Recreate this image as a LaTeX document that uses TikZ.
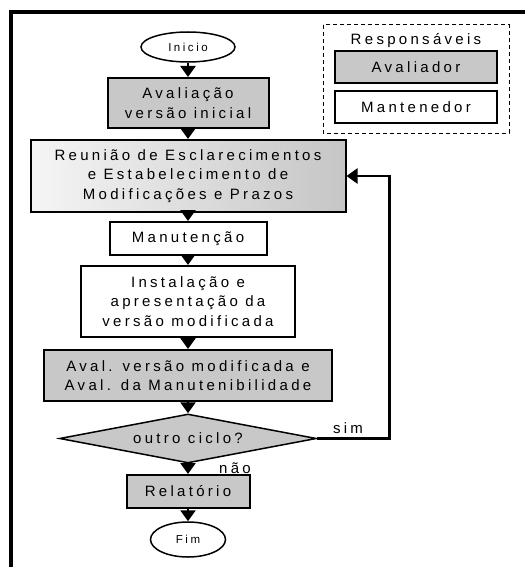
\documentclass[tikz,border=0pt]{standalone}
\usepackage{fontspec}
\setmainfont{Liberation Sans}
\newfontfamily\spacedfont[LetterSpace=22]{Liberation Sans}
\usepackage{tikz}
\usetikzlibrary{shapes.geometric, arrows.meta, calc}
\definecolor{avalGray}{RGB}{200, 200, 200}

\begin{document}
\begin{tikzpicture}[x=1pt, y=-1pt,
  txt/.style={font=\spacedfont\fontsize{15}{19.5}\selectfont, align=center, inner sep=0pt},
  boxMant/.style={txt, draw, line width=2pt, fill=white},
  boxAval/.style={boxMant, fill=avalGray},
  termNode/.style={ellipse, draw, line width=1.5pt, inner sep=0pt,
                   font=\spacedfont\fontsize{11.5}{13}\selectfont},
  arr/.style={line width=2.5pt, -{Triangle[width=15pt, length=11pt]}}]
  \useasboundingbox (0,0) rectangle (525,567);

  % ── Moldura (só topo e lado esquerdo) ──
  \draw[line width=3.5pt] (11,567) -- (11,12) -- (525,12);

  % ── Legenda ──
  \node[txt] (resp) at (416,41) {Responsáveis};
  \node[boxAval, minimum width=162, minimum height=32] (legAval) at (416,67) {Avaliador};
  \node[boxMant, minimum width=162, minimum height=32] (legMant) at (416,107) {Mantenedor};
  \draw[line width=1pt, dash pattern=on 4pt off 3pt] (323,25) rectangle (509,133);

  % ── Fluxo principal (x central = 188) ──
  \node[termNode, minimum width=94, minimum height=30] (inicio) at (188,47) {Inicio};
  \node[boxAval, minimum width=161, minimum height=50] (avalIni) at (188,103)
    {Avaliação\\versão inicial};
  \node[boxMant, left color=gray!8, right color=gray!45,
        minimum width=315, minimum height=72] (reuniao) at (188,176)
    {Reunião de Esclarecimentos\\e Estabelecimento de\\Modificações e Prazos};
  \node[boxMant, minimum width=157, minimum height=33] (manut) at (188,238.5) {Manutenção};
  \node[boxMant, minimum width=214, minimum height=71] (instal) at (188,301.5)
    {Instalação e\\apresentação da\\versão modificada};
  \node[boxAval, minimum width=288, minimum height=51] (avalMod) at (188,375.5)
    {Aval. versão modificada e\\Aval. da Manutenibilidade};
  \node[txt, diamond, aspect=5.24, draw, fill=avalGray, line width=1.5pt,
        minimum width=257, minimum height=49] (ciclo) at (188,438.5) {outro ciclo?};
  \node[boxAval, minimum width=123, minimum height=33] (relat) at (188,491.5) {Relatório};
  \node[termNode, minimum width=75, minimum height=35] (fim) at (188,539.5) {Fim};

  % ── Setas ──
  \foreach \a/\b in {inicio/avalIni, avalIni/reuniao, reuniao/manut, manut/instal,
                     instal/avalMod, avalMod/ciclo, ciclo/relat, relat/fim}
    \draw[arr] (\a) -- (\b);

  % ── Retorno "sim" ──
  \draw[arr] (ciclo.east) -- ++(72,0) |- (reuniao.east);
  \node[txt] (sim) at (348,428) {sim};
  \node[txt] (nao) at (235,468) {não};

\end{tikzpicture}
\end{document}
